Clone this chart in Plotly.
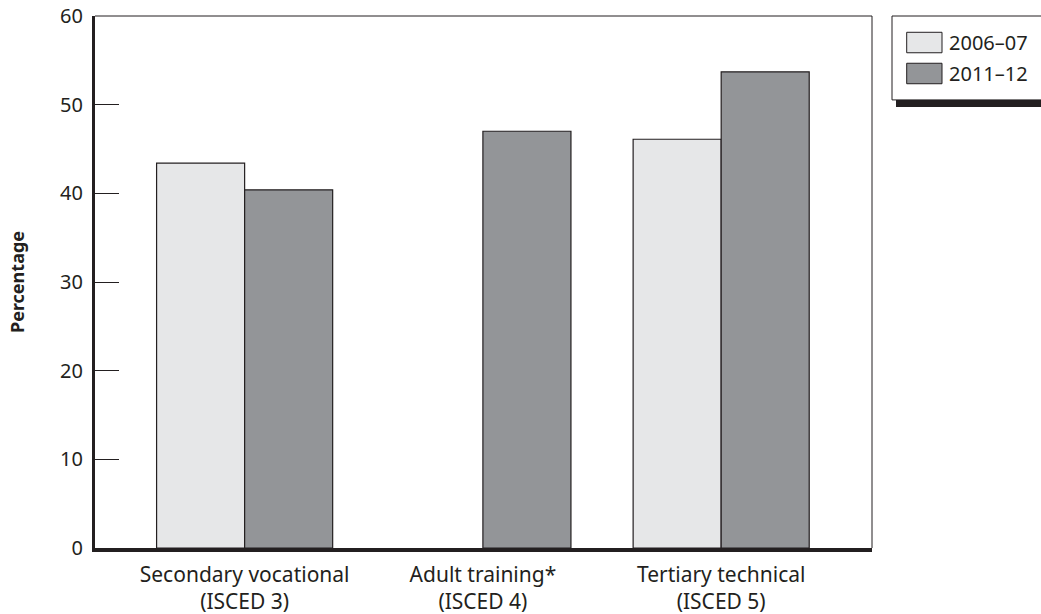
import plotly.graph_objects as go

categories = ["Secondary vocational<br>(ISCED 3)", "Adult training*<br>(ISCED 4)", "Tertiary technical<br>(ISCED 5)"]
series_names = ["2006–07", "2011–12"]
values_2006 = [43.4, None, 46.1]
values_2011 = [40.4, 47.0, 53.7]
colors = ["#e6e7e8", "#939598"]
y_ticks = [0, 10, 20, 30, 40, 50, 60]

FONT = "Noto Sans"
INK = "#231f20"

W, H = 1041, 614
L, R, T, B = 95, 1041 - 872, 16, 614 - 548.5
pw = W - L - R
ph = H - T - B


def px_x(x):
    return (x - L) / pw


def px_y(y):
    return (H - B - y) / ph


fig = go.Figure()
for name, vals, col in zip(series_names, [values_2006, values_2011], colors):
    fig.add_trace(go.Bar(
        x=categories, y=vals, name=name,
        marker=dict(color=col, line=dict(color=INK, width=1.2)),
        showlegend=False,
    ))

# legend drawn as swatches + text
shapes = [
    dict(type="line", xref="paper", yref="paper", x0=0, x1=1, y0=1, y1=1, line=dict(color=INK, width=1)),
    dict(type="line", xref="paper", yref="paper", x0=1, x1=1, y0=0, y1=1, line=dict(color=INK, width=1)),
    dict(type="rect", xref="paper", yref="paper", x0=px_x(896), x1=px_x(1050), y0=px_y(107), y1=px_y(100),
         fillcolor=INK, line=dict(width=0)),
    dict(type="rect", xref="paper", yref="paper", x0=px_x(892), x1=px_x(1050), y0=px_y(100), y1=px_y(16),
         fillcolor="white", line=dict(color=INK, width=1)),
]
annotations = []
sw_tops = [32.3, 63.3]
for name, col, top in zip(series_names, colors, sw_tops):
    shapes.append(dict(type="rect", xref="paper", yref="paper", x0=px_x(906.7), x1=px_x(942),
                       y0=px_y(top + 20.5), y1=px_y(top), fillcolor=col, line=dict(color=INK, width=1)))
    annotations.append(dict(text=name, xref="paper", yref="paper", x=px_x(947), y=px_y(top + 10.5),
                            xanchor="left", yanchor="middle", showarrow=False,
                            font=dict(family=FONT, size=20, color=INK)))

fig.update_layout(
    width=W, height=H,
    margin=dict(l=L, r=R, t=T, b=B, autoexpand=False),
    paper_bgcolor="white", plot_bgcolor="white",
    barmode="group", bargap=0.261, bargroupgap=0,
    font=dict(family=FONT, size=20, color=INK),
    showlegend=False,
    xaxis=dict(
        range=[-0.628, 2.633], showline=True, linecolor=INK, linewidth=3.5,
        ticks="", showgrid=False, zeroline=False, automargin=False,
        ticklabelstandoff=5,
        tickfont=dict(family=FONT, size=21, color=INK),
    ),
    yaxis=dict(
        range=[0, 60], tickvals=y_ticks, showline=True, linecolor=INK, linewidth=3,
        ticks="inside", ticklen=24, tickwidth=1, tickcolor=INK,
        showgrid=False, zeroline=False, automargin=False,
        ticklabelstandoff=5,
        tickfont=dict(family=FONT, size=20, color=INK),
        title=dict(text="<b>Percentage</b>", font=dict(family=FONT, size=18, color=INK), standoff=31),
    ),
    shapes=shapes,
    annotations=annotations,
)

fig.write_html("out.html", config={"displayModeBar": False},
               post_script="document.body.style.margin='0';")
